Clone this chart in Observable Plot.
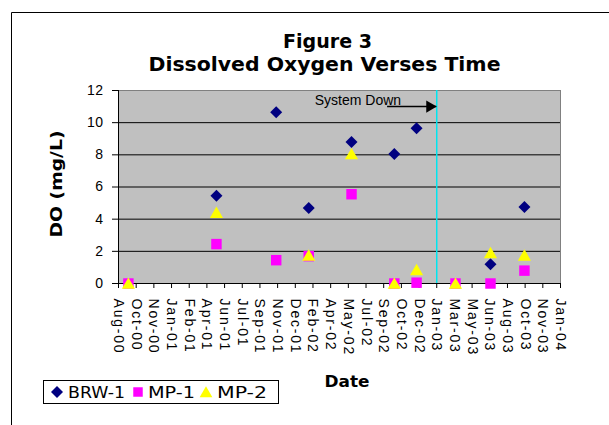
<!DOCTYPE html>
<html><head><meta charset="utf-8">
<script src="https://cdn.jsdelivr.net/npm/d3@7"></script>
<script src="https://cdn.jsdelivr.net/npm/@observablehq/plot@0.6"></script>
<style>
body{margin:0;background:#fff;}
#chart svg{display:block;}
#chart g[aria-label="x-axis tick label"] text{letter-spacing:1.8px;}
#chart g[aria-label="y-axis tick label"] text{letter-spacing:0.5px;}
</style></head><body><div id="chart"></div>
<script>
// ---- data ----
const titleLines = ["Figure 3", "Dissolved Oxygen Verses Time"];
const xLabel = "Date";
const yLabel = "DO (mg/L)";
const seriesNames = ["BRW-1", "MP-1", "MP-2"];
const seriesColors = ["#000080", "#ff00ff", "#ffff00"];
const sampleDates = ["2000-09-09","2001-05-16","2001-11-01","2002-02-01","2002-06-02","2002-10-01","2002-12-03","2003-03-23","2003-06-30","2003-10-04"];
const brw1 = [null, 5.45, 10.65, 4.7, 8.8, 8.05, 9.65, null, 1.2, 4.75];
const mp1  = [0, 2.45, 1.45, 1.7, 5.55, 0, 0.05, 0, 0, 0.8];
const mp2  = [0, 4.4, null, 1.75, 8.05, 0, 0.85, 0, 1.9, 1.75];
const tickDates = ["2000-08-12","2000-10-01","2000-11-20","2001-01-09","2001-02-28","2001-04-19","2001-06-08","2001-07-28","2001-09-16","2001-11-05","2001-12-25","2002-02-13","2002-04-04","2002-05-24","2002-07-13","2002-09-01","2002-10-21","2002-12-10","2003-01-29","2003-03-20","2003-05-09","2003-06-28","2003-08-17","2003-10-06","2003-11-25","2004-01-14"];
const tickLabels = ["Aug-00","Oct-00","Nov-00","Jan-01","Feb-01","Apr-01","Jun-01","Jul-01","Sep-01","Nov-01","Dec-01","Feb-02","Apr-02","May-02","Jul-02","Sep-02","Oct-02","Dec-02","Jan-03","Mar-03","May-03","Jun-03","Aug-03","Oct-03","Nov-03","Jan-04"];
const yTicks = [0, 2, 4, 6, 8, 10, 12];
const gridValues = [2, 4, 6, 8, 10];
const systemDownDate = "2003-01-29";
const arrowStartDate = "2002-09-12";
const arrowY = 11.0;
const noteText = "System Down";
const noteDate = "2002-06-20";
const noteY = 11.0;

// ---- build ----
const parse = d3.utcParse("%Y-%m-%d");
const ticks = tickDates.map(parse);
const labelOf = new Map(ticks.map((d, i) => [+d, tickLabels[i]]));
const seriesValues = [brw1, mp1, mp2];
const rows = [];
seriesNames.forEach((s, si) => sampleDates.forEach((d, i) => {
  const v = seriesValues[si][i];
  if (v != null) rows.push({series: s, date: parse(d), v});
}));
const bySeries = s => rows.filter(r => r.series === s);
const sysDown = parse(systemDownDate);

const plot = Plot.plot({
  width: 609, height: 425,
  marginLeft: 118, marginRight: 49, marginTop: 90, marginBottom: 142,
  style: {fontFamily: "'Liberation Sans', Arial, sans-serif", fontSize: "14px", color: "#000", background: "#fff", overflow: "visible"},
  x: {type: "utc", domain: [ticks[0], ticks[ticks.length - 1]]},
  y: {domain: [0, 12]},
  marks: [
    Plot.frame({fill: "#c0c0c0", stroke: "#808080"}),
    Plot.ruleY(gridValues, {stroke: "#000", strokeWidth: 1}),
    Plot.ruleY([0], {stroke: "#000"}),
    Plot.ruleX([ticks[0]], {stroke: "#000"}),
    Plot.axisX({ticks, tickFormat: d => labelOf.get(+d), tickRotate: 90, tickSize: 5, tickPadding: 10, label: null, stroke: "#000", strokeOpacity: 1}),
    Plot.axisY({ticks: yTicks, tickSize: 6, tickPadding: 9, label: null, stroke: "#000", strokeOpacity: 1}),
    Plot.ruleX([sysDown], {stroke: "#00e5ee", strokeWidth: 1.5}),
    Plot.ruleY([{x1: parse(arrowStartDate), x2: sysDown, y: arrowY}], {x1: "x1", x2: "x2", y: "y", stroke: "#000", strokeWidth: 1.5}),
    Plot.dot([{x: sysDown, y: arrowY}], {x: "x", y: "y", symbol: "triangle", rotate: 90, r: 4.5, fill: "#000", stroke: "none", dx: -7}),
    Plot.text([{x: parse(noteDate), y: noteY, t: noteText}], {x: "x", y: "y", text: "t", fontSize: 14, dy: -6, fill: "#000"}),
    Plot.dot(bySeries("BRW-1"), {x: "date", y: "v", symbol: "diamond2", r: 5.4, fill: seriesColors[0], stroke: "none"}),
    Plot.dot(bySeries("MP-1"), {x: "date", y: "v", symbol: "square", r: 5.9, fill: seriesColors[1], stroke: "none"}),
    Plot.dot(bySeries("MP-2"), {x: "date", y: "v", symbol: "triangle", r: 4.9, fill: seriesColors[2], stroke: "none", dy: 1.5})
  ]
});
document.getElementById("chart").appendChild(plot);

// ---- decorations: border, titles, axis labels, legend ----
const svg = d3.select(plot);
const deco = svg.append("g").attr("font-family", "'DejaVu Sans', sans-serif").attr("text-anchor", "start");
deco.append("path").attr("d", "M11.5,425V12.5H609").attr("fill", "none").attr("stroke", "#000");
deco.append("text").attr("x", 327.5).attr("y", 48).attr("text-anchor", "middle")
  .attr("font-size", 19.5).attr("font-weight", "bold").attr("textLength", 89).attr("lengthAdjust", "spacingAndGlyphs").text(titleLines[0]);
deco.append("text").attr("x", 324.5).attr("y", 71).attr("text-anchor", "middle")
  .attr("font-size", 19.5).attr("font-weight", "bold").attr("textLength", 352).attr("lengthAdjust", "spacingAndGlyphs").text(titleLines[1]);
deco.append("text").attr("x", 347).attr("y", 387).attr("text-anchor", "middle")
  .attr("font-size", 16.5).attr("font-weight", "bold").attr("textLength", 45).attr("lengthAdjust", "spacingAndGlyphs").text(xLabel);
deco.append("text").attr("transform", "translate(62,184) rotate(-90)").attr("text-anchor", "middle")
  .attr("font-size", 16).attr("font-weight", "bold").attr("textLength", 107).attr("lengthAdjust", "spacingAndGlyphs").text(yLabel);

const legend = deco.append("g").attr("font-family", "'DejaVu Sans', sans-serif");
legend.append("rect").attr("x", 43.5).attr("y", 380.5).attr("width", 235).attr("height", 23).attr("fill", "#fff").attr("stroke", "#000");
const symTypes = [d3.symbolDiamond2, d3.symbolSquare, d3.symbolTriangle];
const symSizes = [92, 90, 70];
const symX = [57, 138, 206];
const txtX = [68, 148, 217];
const txtW = [57, 47, 50];
seriesNames.forEach((s, i) => {
  legend.append("path").attr("d", d3.symbol(symTypes[i], symSizes[i])()).attr("transform", `translate(${symX[i]},${392 + (i === 2 ? 1.5 : 0)})`).attr("fill", seriesColors[i]);
  legend.append("text").attr("x", txtX[i]).attr("y", 397.5).attr("text-anchor", "start").attr("font-size", 15).attr("textLength", txtW[i]).attr("lengthAdjust", "spacingAndGlyphs").text(s);
});
</script></body></html>
